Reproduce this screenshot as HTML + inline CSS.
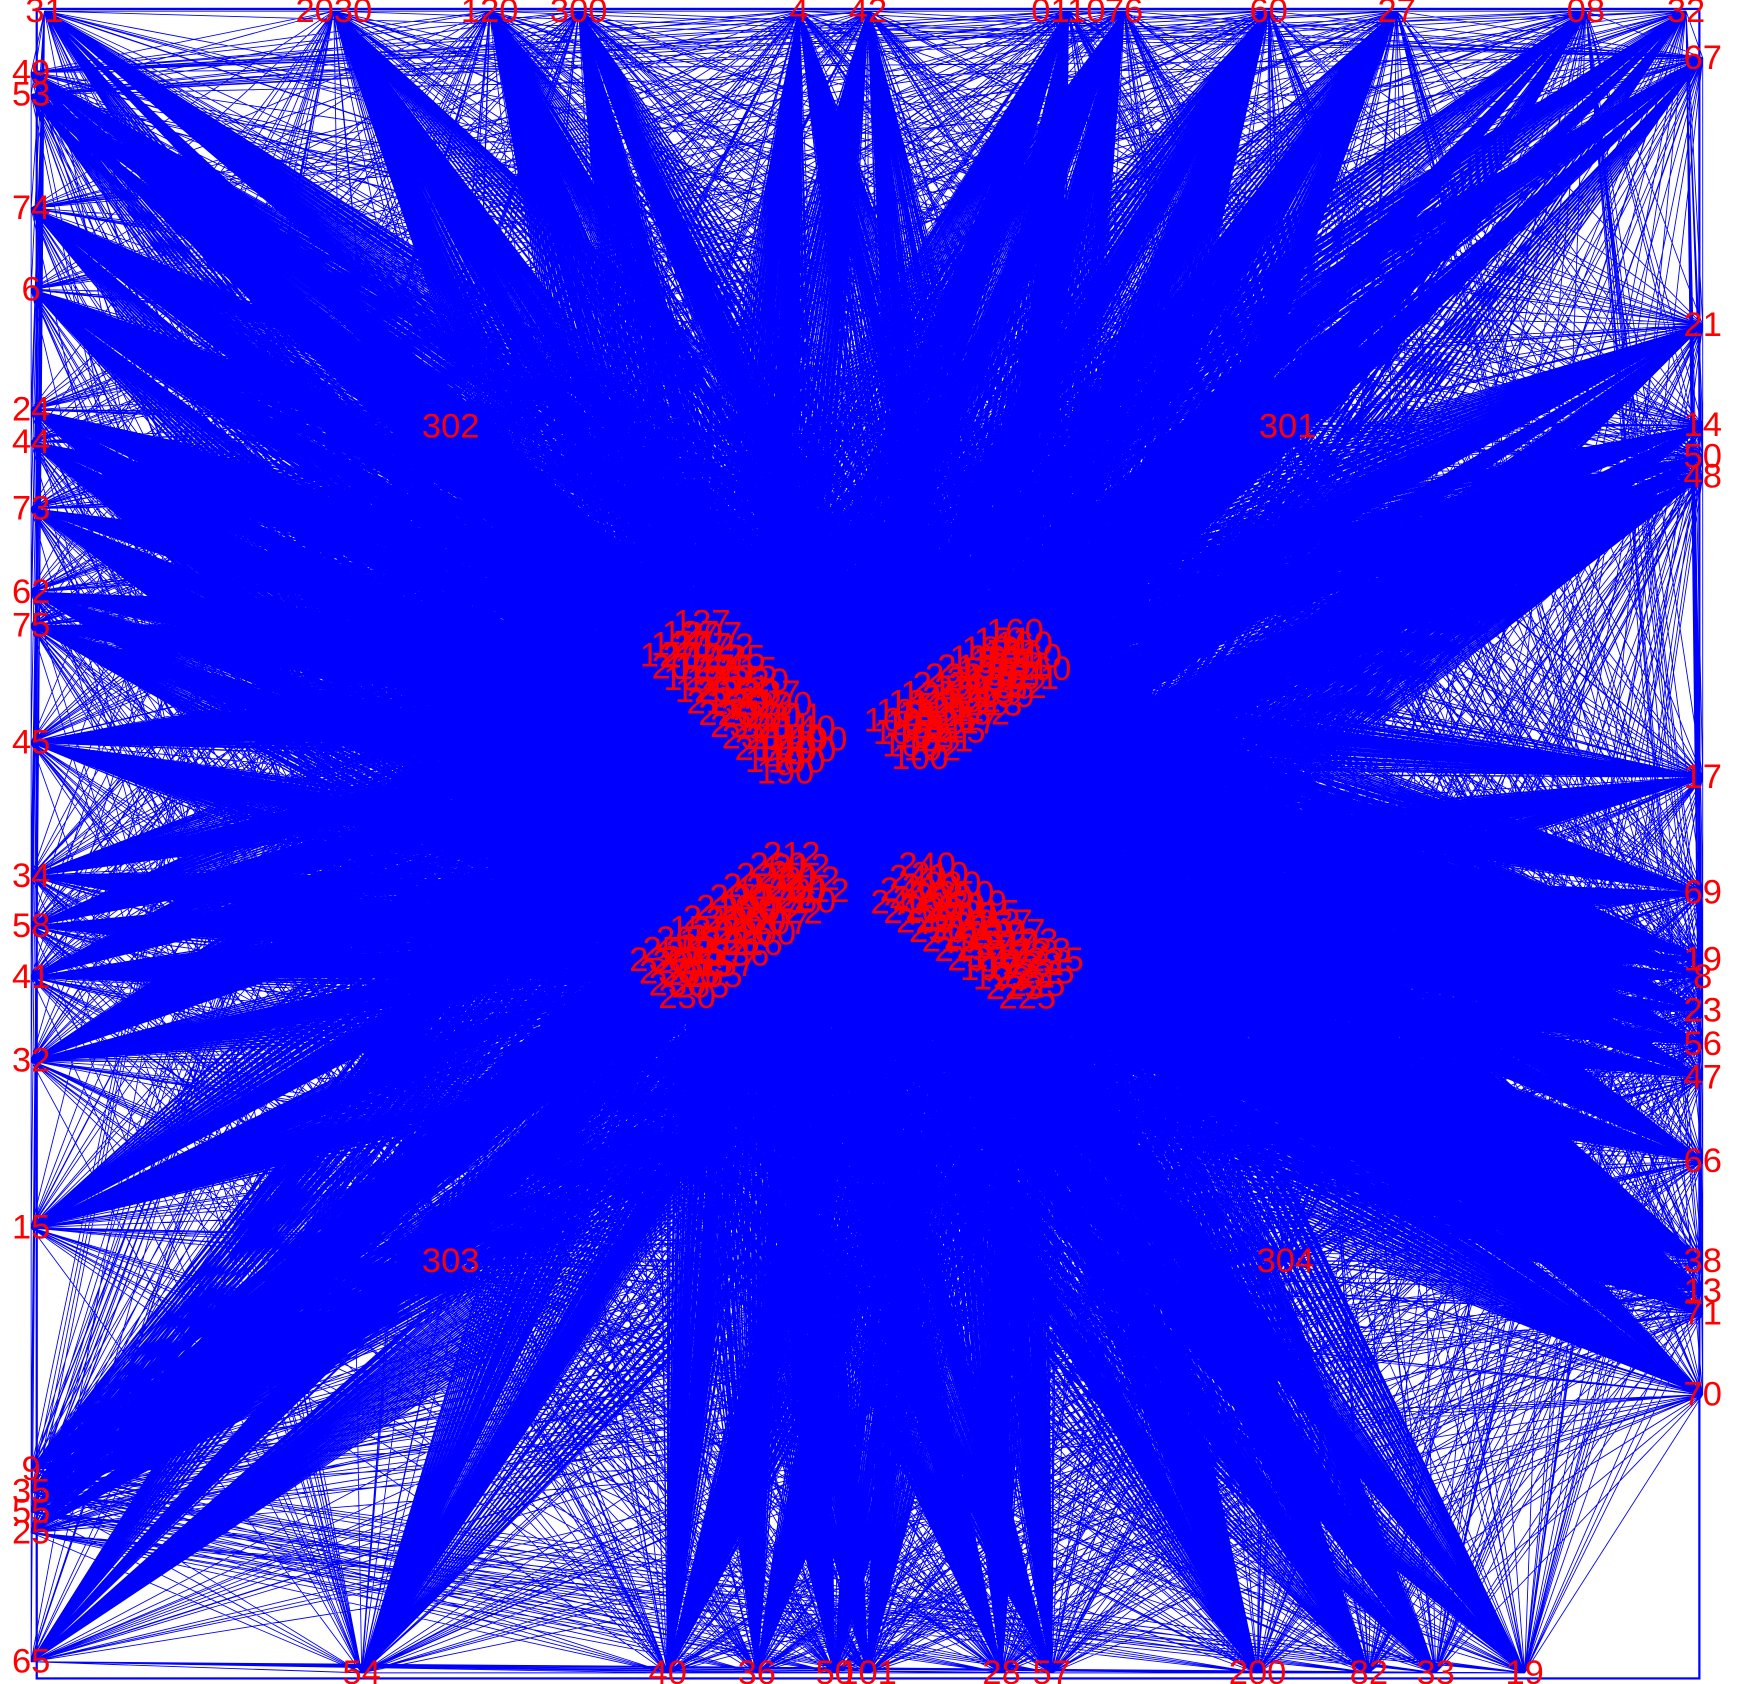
<!DOCTYPE html>
<html><head><meta charset="utf-8">
<style>
html,body{margin:0;padding:0;background:#fff;width:1745px;height:1684px;overflow:hidden}
svg{display:block}
text{font-family:"Liberation Sans",sans-serif;fill:#ff0000;font-size:31px}
</style></head>
<body>
<svg id="g" width="1745" height="1684" viewBox="0 0 1568 1513" preserveAspectRatio="none" xmlns="http://www.w3.org/2000/svg">
<rect x="33" y="8" width="1494" height="1500" fill="none" stroke="#0000ff" stroke-width="2"/>
<g id="edges"></g>
<g id="labels"></g>
</svg>
<script>
const topNodes=[["31",40],["2030",300],["120",440],["300",520],["4",718],["42",780],["0110",960],["76",1010],["60",1140],["27",1255],["08",1425],["32",1515]];
const leftNodes=[["49",65],["53",85],["74",187],["6",260],["24",368],["44",397],["73",457],["62",532],["75",562],["45",667],["34",787],["58",832],["41",878],["32",953],["15",1103],["9",1320],["35",1340],["55",1358],["25",1377],["65",1493]];
const rightNodes=[["67",52],["21",292],["14",382],["50",410],["48",428],["17",698],["69",802],["19",862],["8",878],["23",908],["56",938],["47",968],["66",1043],["38",1133],["13",1160],["71",1180],["70",1253]];
const bottomNodes=[["54",325],["40",600],["36",680],["50",750],["101",780],["28",900],["57",945],["200",1130],["82",1230],["33",1290],["19",1370]];
const hubNodes=[["302",405,383],["301",1157,383],["303",405,1133],["304",1155,1133]];
const clusterEnds=[[615,575,720,680],[815,665,925,585],[605,880,725,785],[820,795,935,880]];
const clusterTs=[0,0.1,0.2,0.3,0.4,0.5,0.6,0.7,0.8,0.9,1];
const clusterWobs=[-22,-8,6,20];
const clusterIds=[["127","207","122","125","215","220","237","230","211","140","190"],["100","102","181","125","217","232","213","199","182","151","160"],["230","255","265","157","236","216","200","207","222","260","212"],["240","210","220","250","219","215","237","197","193","223","225"]];
const ns="http://www.w3.org/2000/svg";
const E=document.getElementById('edges'),L=document.getElementById('labels');
const border=[];
topNodes.forEach(n=>border.push([n[0],n[1],10,'t']));
leftNodes.forEach(n=>border.push([n[0],28,n[1],'l']));
rightNodes.forEach(n=>border.push([n[0],1530,n[1],'r']));
bottomNodes.forEach(n=>border.push([n[0],n[1],1503,'b']));
const cpts=[];
clusterEnds.forEach((c,ci)=>clusterTs.forEach((t,k)=>clusterWobs.forEach(w=>{
 const dx=c[2]-c[0],dy=c[3]-c[1],len=Math.hypot(dx,dy);
 cpts.push([clusterIds[ci][k],c[0]+dx*t+(-dy/len)*w,c[1]+dy*t+(dx/len)*w]);
})));
let d='';
border.forEach(b=>{
 cpts.forEach(p=>{d+=`M${b[1]} ${b[2]}L${p[1].toFixed(1)} ${p[2].toFixed(1)}`;});
 hubNodes.forEach(h=>{d+=`M${b[1]} ${b[2]}L${h[1]} ${h[2]}`;});
});
let d2='';
for(let i=0;i<border.length;i++)for(let j=i+1;j<border.length;j++){
 if(border[i][3]!==border[j][3]||(i+j)%4===0)d2+=`M${border[i][1]} ${border[i][2]}L${border[j][1]} ${border[j][2]}`;
}
const p1=document.createElementNS(ns,'path');


p1.setAttribute('d',d);p1.setAttribute('stroke','#0000ff');p1.setAttribute('stroke-width','1.2');p1.setAttribute('fill','none');
const p2=document.createElementNS(ns,'path');


p2.setAttribute('d',d2);p2.setAttribute('stroke','#0000ff');p2.setAttribute('stroke-width','0.8');p2.setAttribute('fill','none');
E.appendChild(p2);E.appendChild(p1);
function lab(t,x,y){
 const e=document.createElementNS(ns,'text');
 
 
 e.setAttribute('x',x);e.setAttribute('y',y);e.setAttribute('text-anchor','middle');e.setAttribute('dominant-baseline','central');
 e.textContent=t;L.appendChild(e);
}
border.forEach(b=>lab(b[0],b[1],b[2]));
hubNodes.forEach(h=>lab(h[0],h[1],h[2]));
cpts.forEach(p=>lab(p[0],p[1],p[2]));
</script>
</body></html>
